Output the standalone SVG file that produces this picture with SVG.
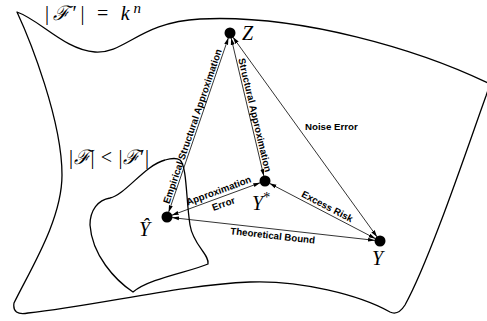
<svg xmlns="http://www.w3.org/2000/svg" width="487" height="321" viewBox="0 0 487 321">
<style>
.shape{fill:none;stroke:#000;stroke-width:1.3;stroke-linejoin:round}
.edge{fill:none;stroke:#000;stroke-width:0.8;marker-start:url(#ah);marker-end:url(#ah)}
.dot{fill:#000}
.lbl{font-family:"Liberation Sans",Arial,sans-serif;font-weight:bold;font-size:9.7px;fill:#000}
.math{font-family:"Liberation Serif","DejaVu Serif",serif;font-size:20px;fill:#000}
.it{font-style:italic}
</style>
<defs>
<marker id="ah" viewBox="0 0 7 6" refX="7" refY="3" markerWidth="7" markerHeight="6" markerUnits="userSpaceOnUse" orient="auto-start-reverse">
<path d="M0,1 L7,3 L0,5 Z" fill="#000"/>
</marker>
</defs>
<rect width="487" height="321" fill="#fff"/>
<g id="outer-set">
<path class="shape" d="M17,12 C40,20 65,50 95,52 C125,54 140,22 200,19 C300,14 420,50 490,84 L486,96 C470,140 430,260 405,305 Q398,316 390,312 C360,295 300,280 250,282 C180,285 100,305 28,313 Q12,316 14,303 C30,270 62,220 62,175 C62,120 30,40 17,12 Z"/>
<text class="math" x="45" y="20" font-size="22" textLength="96" lengthAdjust="spacing">|<tspan class="it">ℱ</tspan>′| = <tspan class="it">k</tspan><tspan class="it" font-size="15" dy="-7">n</tspan></text>
</g>
<g id="inner-set">
<path class="shape" d="M180,160 C187,166 186,200 190,225 C193,245 210,255 208,264 C190,272 150,278 133,292 C115,280 92,255 90,225 C90,210 98,200 110,198 C125,195 145,165 165,160 C172,158 177,158 180,160 Z"/>
<text class="math" x="69" y="164" font-size="20" textLength="80" lengthAdjust="spacing">|<tspan class="it">ℱ</tspan>| &lt; |<tspan class="it">ℱ</tspan>′|</text>
</g>
<g id="connectors">
<path class="edge" d="M168.6,212.3 L228.4,37.7"/>
<path class="edge" d="M231.15,37.9 L263.85,176.1"/>
<path class="edge" d="M232.9,37.1 L377.1,236.9"/>
<path class="edge" d="M171.7,215.3 L260.3,182.7"/>
<path class="edge" d="M269.4,183.3 L375.6,238.7"/>
<path class="edge" d="M172,217.6 L375,240.4"/>
<text class="lbl" text-anchor="middle" transform="translate(197.5,128) rotate(-71.1)" y="-2">Empirical Structural Approximation</text>
<text class="lbl" text-anchor="middle" transform="translate(249.7,116.2) rotate(76.7)" y="-2">Structural Approximation</text>
<text class="lbl" x="305" y="129.5">Noise Error</text>
<text class="lbl" text-anchor="middle" transform="translate(221,197.1) rotate(-20.2)" y="-3.5">Approximation</text>
<text class="lbl" text-anchor="middle" transform="translate(221,197.1) rotate(-20.2)" y="10.5">Error</text>
<text class="lbl" text-anchor="middle" transform="translate(324.4,212) rotate(27.6)" y="-3">Excess Risk</text>
<text class="lbl" text-anchor="middle" transform="translate(273.4,229) rotate(6.4)" y="10">Theoretical Bound</text>
</g>
<g id="node-Z">
<circle class="dot" cx="230" cy="33" r="5.5"/>
<text class="math it" x="242" y="40" font-size="21">Z</text>
</g>
<g id="node-Ystar">
<circle class="dot" cx="265" cy="181" r="5.5"/>
<text class="math" x="252" y="210"><tspan class="it">Y</tspan><tspan font-size="14" dy="-8">*</tspan></text>
</g>
<g id="node-Y">
<circle class="dot" cx="380" cy="241" r="5.5"/>
<text class="math it" x="372" y="265">Y</text>
</g>
<g id="node-Yhat">
<circle class="dot" cx="167" cy="217" r="5.5"/>
<text class="math it" x="139" y="236">Ŷ</text>
</g>
</svg>
